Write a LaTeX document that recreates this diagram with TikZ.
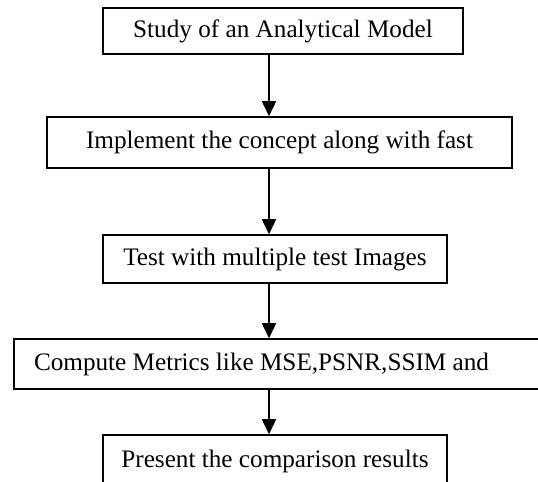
\documentclass[tikz,border=0pt]{standalone}
\usepackage{fontspec}
\setmainfont{Liberation Serif}
\usetikzlibrary{arrows.meta}
\begin{document}
\begin{tikzpicture}[x=0.5pt,y=-0.5pt,
  box/.style={draw, line width=0.75pt, rectangle, inner sep=0pt, font=\fontsize{12.6}{15}\selectfont},
  arr/.style={line width=0.75pt, -{Triangle[width=7pt,length=7.5pt]}}]
\useasboundingbox (0,0) rectangle (538,482);
\clip (0,0) rectangle (538,482);
\coordinate (ax) at (269,0);
\node[box, minimum width=180pt, minimum height=23pt] (b1) at (283,31) {Study of an Analytical Model};
\node[box, minimum width=232.5pt, minimum height=25.5pt] (b2) at (279.5,142.5) {Implement the concept along with fast};
\node[box, minimum width=172pt, minimum height=24pt] (b3) at (275,259) {Test with multiple test Images};
\node[box, minimum width=273pt, minimum height=25pt, text width=253pt, align=flush left, inner xsep=10pt] (b4) at (287,364) {Compute Metrics like MSE,PSNR,SSIM and};
\node[box, minimum width=172pt, minimum height=26pt] (b5) at (275,461) {Present the comparison results};
\draw[arr] (b1.south -| ax) -- (b2.north -| ax);
\draw[arr] (b2.south -| ax) -- (b3.north -| ax);
\draw[arr] (b3.south -| ax) -- (b4.north -| ax);
\draw[arr] (b4.south -| ax) -- (b5.north -| ax);
\end{tikzpicture}
\end{document}
